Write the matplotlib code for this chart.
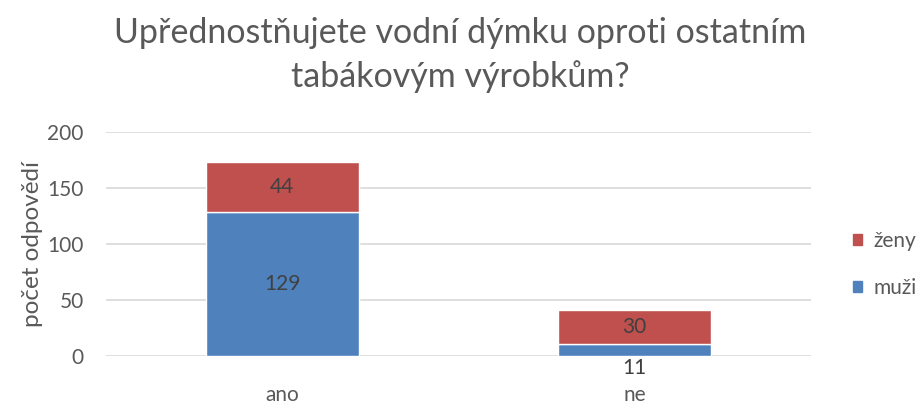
import matplotlib.pyplot as plt
from matplotlib.patches import Patch

plt.rcParams['font.family'] = ['Lato', 'DejaVu Sans']

kategorie = ["ano", "ne"]
muzi = [129, 11]
zeny = [44, 30]
nazev = "Upřednostňujete vodní dýmku oproti ostatním\ntabákovým výrobkům?"

modra = "#4F81BD"
cervena = "#C0504D"
seda = "#595959"

fig = plt.figure(figsize=(9.2, 4.05), dpi=100)
ax = fig.add_axes([106/920, 1-356/405, 705/920, 224/405])

x = range(len(kategorie))
ax.bar(x, muzi, width=0.433, color=modra, edgecolor="white", linewidth=1, zorder=3)
ax.bar(x, zeny, width=0.433, bottom=muzi, color=cervena, edgecolor="white", linewidth=1, zorder=3)

# popisky hodnot
for i in x:
    if muzi[i] > 20:
        ax.text(i, muzi[i]/2, str(muzi[i]), ha="center", va="center", fontsize=15, color="#404040", zorder=4)
    else:
        ax.annotate(str(muzi[i]), (i, 0), xytext=(0, -9), textcoords="offset points",
                    ha="center", va="center", fontsize=15, color="#404040")
    ax.text(i, muzi[i] + zeny[i]/2, str(zeny[i]), ha="center", va="center", fontsize=15, color="#404040", zorder=4)

ax.set_xlim(-0.5, 1.5)
ax.set_ylim(0, 200)
ax.set_yticks([0, 50, 100, 150, 200])
ax.set_xticks(list(x))
ax.set_xticklabels(kategorie)
ax.grid(axis="y", color="#D9D9D9", linewidth=1.2, zorder=0)
for s in ax.spines.values():
    s.set_visible(False)
ax.tick_params(axis="both", length=0, labelsize=15, labelcolor=seda)
ax.tick_params(axis="y", pad=16)
ax.tick_params(axis="x", pad=21)
ax.set_ylabel("počet odpovědí", fontsize=17.5, color=seda, labelpad=3)

fig.text(0.5, 1-55/405, nazev, ha="center", va="center", fontsize=24.5, color=seda, linespacing=1.42)

handles = [Patch(color=cervena), Patch(color=modra)]
fig.legend(handles, ["ženy", "muži"], loc="center left", bbox_to_anchor=(853/920, 1-264.5/405),
           frameon=False, fontsize=15, handlelength=0.45, handleheight=0.45, handletextpad=0.55,
           labelspacing=1.3, borderpad=0, borderaxespad=0, labelcolor=seda)

fig.savefig("out.png", dpi=100)
